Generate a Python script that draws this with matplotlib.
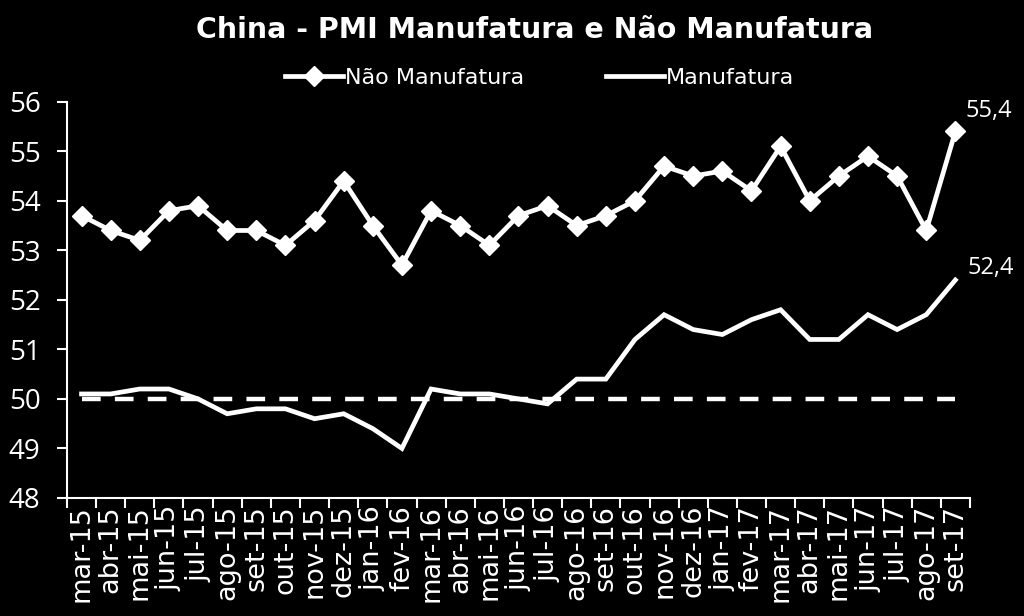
import matplotlib
matplotlib.use("Agg")
import matplotlib.pyplot as plt
from matplotlib.lines import Line2D
from matplotlib.font_manager import FontProperties

months = ["mar-15", "abr-15", "mai-15", "jun-15", "jul-15", "ago-15", "set-15", "out-15",
          "nov-15", "dez-15", "jan-16", "fev-16", "mar-16", "abr-16", "mai-16", "jun-16",
          "jul-16", "ago-16", "set-16", "out-16", "nov-16", "dez-16", "jan-17", "fev-17",
          "mar-17", "abr-17", "mai-17", "jun-17", "jul-17", "ago-17", "set-17"]
nao_manufatura = [53.7, 53.4, 53.2, 53.8, 53.9, 53.4, 53.4, 53.1, 53.6, 54.4, 53.5, 52.7,
                  53.8, 53.5, 53.1, 53.7, 53.9, 53.5, 53.7, 54.0, 54.7, 54.5, 54.6, 54.2,
                  55.1, 54.0, 54.5, 54.9, 54.5, 53.4, 55.4]
manufatura = [50.1, 50.1, 50.2, 50.2, 50.0, 49.7, 49.8, 49.8, 49.6, 49.7, 49.4, 49.0,
              50.2, 50.1, 50.1, 50.0, 49.9, 50.4, 50.4, 51.2, 51.7, 51.4, 51.3, 51.6,
              51.8, 51.2, 51.2, 51.7, 51.4, 51.7, 52.4]
referencia = [50.0] * len(months)
yticks = [48, 49, 50, 51, 52, 53, 54, 55, 56]

xfont = FontProperties(family="DejaVu Sans", size=19.5)
yfont = FontProperties(family="Open Sans", size=20)
lfont = FontProperties(family="DejaVu Sans", size=16)
tfont = FontProperties(family="DejaVu Sans", size=20.5, weight="bold")
dfont = FontProperties(family="Open Sans", size=17)

fig = plt.figure(figsize=(10.24, 6.16), dpi=100, facecolor="black")
ax = fig.add_axes([0.0654, 0.1916, 0.8818, 0.6433], facecolor="black")

x = list(range(len(months)))
ax.plot(x, nao_manufatura, color="white", lw=3.4, marker="D", ms=10.5,
        markeredgecolor="white", markerfacecolor="white", solid_joinstyle="miter")
ax.plot(x, manufatura, color="white", lw=3.4, solid_joinstyle="miter")
ax.plot(x, referencia, color="white", lw=3.2, dashes=(4.2, 3.2))

ax.set_xlim(-0.5, len(months) - 0.5)
ax.set_ylim(48, 56)
ax.set_yticks(yticks)
ax.set_yticklabels([str(v) for v in yticks], color="white", fontproperties=yfont)
ax.set_xticks(x)
ax.set_xticklabels(months, rotation=90, color="white", fontproperties=xfont)
ax.set_xticks([i - 0.5 for i in range(len(months) + 1)], minor=True)
ax.tick_params(axis="x", which="major", length=0, pad=5)
ax.tick_params(axis="x", which="minor", length=7, width=1.5, color="white", direction="out")
ax.tick_params(axis="y", length=7, width=1.5, color="white", direction="out", pad=12)

for s in ["top", "right"]:
    ax.spines[s].set_visible(False)
for s in ["left", "bottom"]:
    ax.spines[s].set_color("white")
    ax.spines[s].set_linewidth(1.5)

ax.annotate("55,4", (x[-1], nao_manufatura[-1]), xytext=(7, 6), textcoords="offset points",
            color="white", fontproperties=dfont, ha="left", va="bottom")
ax.annotate("52,4", (x[-1], manufatura[-1]), xytext=(9, 0), textcoords="offset points",
            color="white", fontproperties=dfont, ha="left", va="bottom")

fig.text(0.522, 0.951, "China - PMI Manufatura e Não Manufatura", color="white",
         fontproperties=tfont, ha="center", va="center")

handles = [Line2D([], [], color="white", lw=3.4, marker="D", ms=10),
           Line2D([], [], color="white", lw=3.4)]
leg = fig.legend(handles, ["Não Manufatura", "Manufatura"], loc="center",
                 bbox_to_anchor=(0.527, 0.874), ncol=2, frameon=False, prop=lfont,
                 handlelength=2.6, handletextpad=0.1, columnspacing=3.7,
                 labelcolor="white")

fig.savefig("out.png", dpi=100, facecolor="black")
